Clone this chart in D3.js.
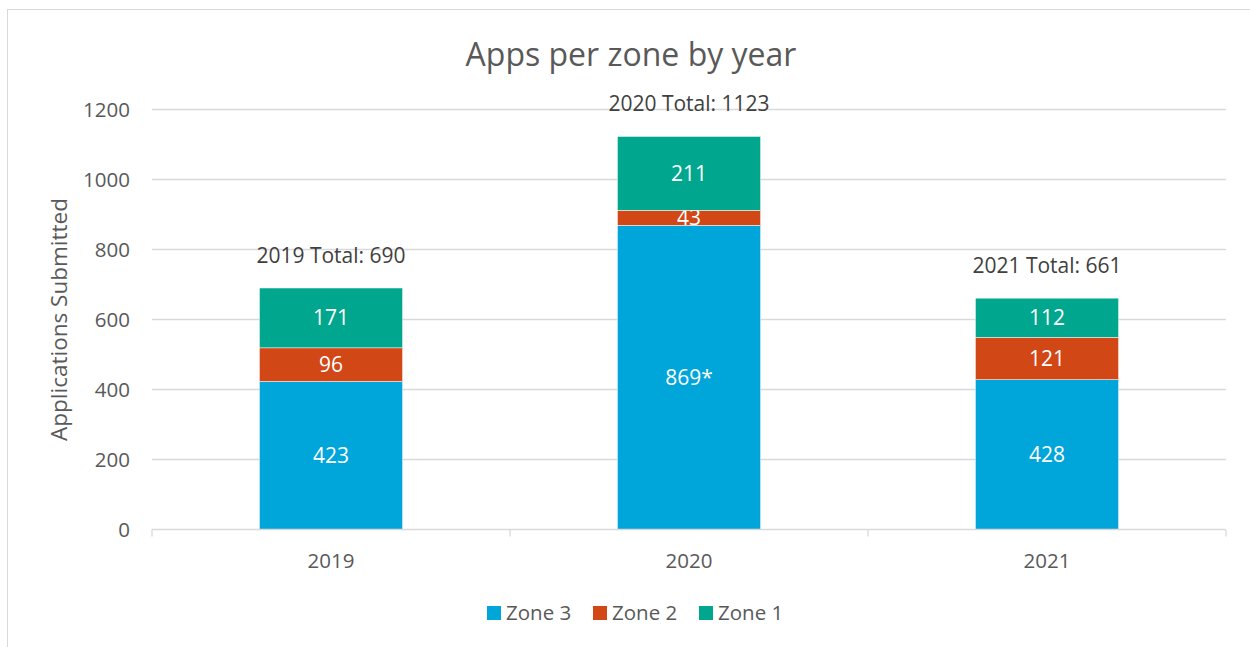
<!DOCTYPE html>
<html>
<head>
<meta charset="utf-8">
<script src="https://cdn.jsdelivr.net/npm/d3@7"></script>
<style>
  body { margin: 0; background: #fff; }
  svg text { font-family: "Open Sans", "Noto Sans", sans-serif; }
</style>
</head>
<body>
<svg id="chart" width="1250" height="647"></svg>
<script>
const years = ["2019", "2020", "2021"];
const zones = ["Zone 3", "Zone 2", "Zone 1"];
const zone3 = [423, 869, 428];
const zone2 = [96, 43, 121];
const zone1 = [171, 211, 112];
const zone3Labels = ["423", "869*", "428"];
const yTicks = [0, 200, 400, 600, 800, 1000, 1200];
const colors = ["#00A5DA", "#D24716", "#00A78E"];

const margin = {top: 109.5, right: 24, bottom: 117.5, left: 152};
const width = 1250 - margin.left - margin.right;
const height = 647 - margin.top - margin.bottom;

const svg = d3.select("#chart");

// outer chart border
svg.append("rect")
  .attr("x", 7.5).attr("y", 9.5)
  .attr("width", 1250).attr("height", 650)
  .attr("fill", "none")
  .attr("stroke", "#d9d9d9");

svg.append("text")
  .attr("x", 631).attr("y", 66)
  .attr("text-anchor", "middle")
  .style("font-size", "32px")
  .style("fill", "#595959")
  .text("Apps per zone by year");

const g = svg.append("g")
  .attr("transform", "translate(" + margin.left + "," + margin.top + ")");

const x = d3.scaleBand().domain(years).range([0, width]).padding(0);
const y = d3.scaleLinear().domain([0, 1200]).range([height, 0]);
const barW = x.bandwidth() * 0.4;

// gridlines
g.append("g")
  .selectAll("line")
  .data(yTicks.filter(d => d > 0))
  .enter().append("line")
    .attr("x1", 0).attr("x2", width)
    .attr("y1", d => y(d)).attr("y2", d => y(d))
    .attr("stroke", "#d9d9d9")
    .attr("stroke-width", 1.3);

// y tick labels
g.append("g")
  .selectAll("text")
  .data(yTicks)
  .enter().append("text")
    .attr("x", -22)
    .attr("y", d => y(d))
    .attr("dy", "0.35em")
    .attr("text-anchor", "end")
    .style("font-size", "20.5px")
    .style("fill", "#595959")
    .text(d => d);

// stacked data
const rows = years.map((yr, i) => ({year: yr, "Zone 3": zone3[i], "Zone 2": zone2[i], "Zone 1": zone1[i]}));
const stack = d3.stack().keys(zones)(rows);

const layers = g.selectAll("g.layer")
  .data(stack)
  .enter().append("g")
    .attr("class", "layer")
    .attr("fill", (d, i) => colors[i]);

layers.selectAll("rect")
  .data(d => d)
  .enter().append("rect")
    .attr("x", d => x(d.data.year) + (x.bandwidth() - barW) / 2)
    .attr("y", d => y(d[1]))
    .attr("width", barW)
    .attr("height", d => y(d[0]) - y(d[1]))
    .attr("stroke", "#fff")
    .attr("stroke-width", 0.5);

layers.selectAll("text")
  .data((d, li) => d.map((s, i) => ({s: s, li: li, i: i})))
  .enter().append("text")
    .attr("x", d => x(d.s.data.year) + x.bandwidth() / 2)
    .attr("y", d => (y(d.s[0]) + y(d.s[1])) / 2)
    .attr("dy", "0.36em")
    .attr("text-anchor", "middle")
    .style("font-size", "21px")
    .style("fill", "#fff")
    .text(d => d.li === 0 ? zone3Labels[d.i] : d.s[1] - d.s[0]);

// totals
g.append("g")
  .selectAll("text")
  .data(rows)
  .enter().append("text")
    .attr("x", d => x(d.year) + x.bandwidth() / 2)
    .attr("y", d => y(d["Zone 3"] + d["Zone 2"] + d["Zone 1"]) - 25)
    .attr("text-anchor", "middle")
    .style("font-size", "21px")
    .style("fill", "#404040")
    .text(d => d.year + " Total: " + (d["Zone 3"] + d["Zone 2"] + d["Zone 1"]));

// x axis
const xAxis = g.append("g").attr("transform", "translate(0," + height + ")");
xAxis.append("line")
  .attr("x1", 0).attr("x2", width)
  .attr("stroke", "#d9d9d9").attr("stroke-width", 1.3);
xAxis.selectAll("line.tick")
  .data(years.map(d => x(d)).concat([width]))
  .enter().append("line")
    .attr("class", "tick")
    .attr("x1", d => d).attr("x2", d => d)
    .attr("y1", 0).attr("y2", 7)
    .attr("stroke", "#d9d9d9").attr("stroke-width", 1.3);
xAxis.selectAll("text")
  .data(years)
  .enter().append("text")
    .attr("x", d => x(d) + x.bandwidth() / 2)
    .attr("y", 38)
    .attr("text-anchor", "middle")
    .style("font-size", "20.5px")
    .style("fill", "#595959")
    .text(d => d);

// y axis title
svg.append("text")
  .attr("transform", "translate(67," + (margin.top + height / 2) + ") rotate(-90)")
  .attr("text-anchor", "middle")
  .style("font-size", "22.5px")
  .style("fill", "#595959")
  .text("Applications Submitted");

// legend
const legendX = [487, 593, 699];
const legend = svg.append("g")
  .selectAll("g")
  .data(zones)
  .enter().append("g")
    .attr("transform", (d, i) => "translate(" + legendX[i] + ",606)");
legend.append("rect")
  .attr("width", 14).attr("height", 14)
  .attr("fill", (d, i) => colors[i]);
legend.append("text")
  .attr("x", 19).attr("y", 7)
  .attr("dy", "0.36em")
  .style("font-size", "20.5px")
  .style("fill", "#595959")
  .text(d => d);
</script>
</body>
</html>
